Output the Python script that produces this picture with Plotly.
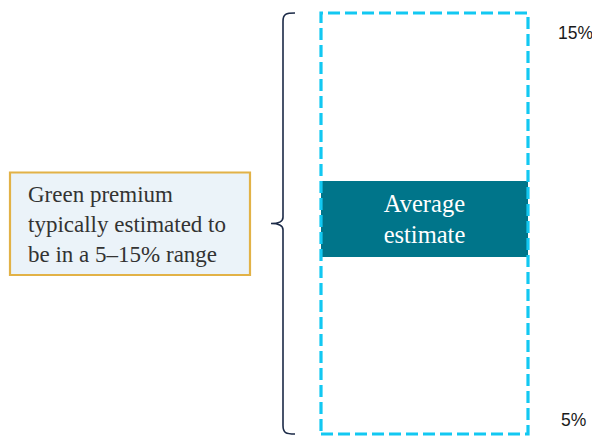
import plotly.graph_objects as go

# Data
range_low = 5.0       # lower bound of green premium estimate (%)
range_high = 15.0     # upper bound (%)
avg_low = 9.2         # average-estimate band lower edge (%)
avg_high = 11.0       # average-estimate band upper edge (%)
tick_labels = ["5%", "15%"]
band_label = "Average<br>estimate"
note_text = "Green premium<br>typically estimated to<br>be in a 5–15% range"

# Layout constants (x axis in page-pixel units)
W, H = 592, 437
box_x0, box_x1 = 321, 528
px_per_unit = 42.1
top_px = 13
y_top = range_high + top_px / px_per_unit
y_bot = y_top - H / px_per_unit
serif = "Liberation Serif"


def py(p):
    """page pixel row -> paper fraction"""
    return 1 - p / H


fig = go.Figure()

# Average estimate band
fig.add_trace(go.Bar(
    x=[(box_x0 + box_x1) / 2], y=[avg_high - avg_low], base=[avg_low],
    width=[box_x1 - box_x0],
    marker=dict(color="#00758A", line=dict(width=0)),
    text=[band_label], textposition="inside", insidetextanchor="middle",
    textfont=dict(family=serif, size=24.5, color="white"),
    hoverinfo="skip", showlegend=False,
))

# Dashed range box
fig.add_shape(type="rect", xref="x", yref="y",
              x0=box_x0, x1=box_x1, y0=range_low, y1=range_high,
              line=dict(color="#12C8F2", width=3.2, dash="12px,5px"),
              fillcolor="rgba(0,0,0,0)", layer="above")

# Curly brace
mid = (range_low + range_high) / 2
bx, tipx, endx = 283, 271, 295
path = (f"M {endx},{range_high} C {bx+3},{range_high} {bx},{range_high-0.02} {bx},{range_high-0.2} "
        f"L {bx},{mid+0.15} C {bx},{mid+0.05} {bx-3},{mid} {tipx},{mid} "
        f"C {bx-3},{mid} {bx},{mid-0.05} {bx},{mid-0.15} "
        f"L {bx},{range_low+0.2} C {bx},{range_low+0.02} {bx+3},{range_low} {endx},{range_low}")
fig.add_shape(type="path", path=path, xref="x", yref="y",
              line=dict(color="#1B2A47", width=1.6))

# Note box
fig.add_shape(type="rect", xref="x", yref="paper",
              x0=10, x1=250, y0=py(275), y1=py(172.5),
              line=dict(color="#E2B247", width=2.2), fillcolor="#EBF3F9", layer="below")
fig.add_annotation(x=26, y=py(224), xref="x", yref="paper",
                   text=note_text, showarrow=False, xanchor="left", yanchor="middle",
                   align="left", font=dict(family=serif, size=23, color="#333333"))

# Percentage labels
sans = "Liberation Sans"
fig.add_annotation(x=556, y=range_high, xref="x", yref="y", text=tick_labels[1],
                   showarrow=False, xanchor="left", yanchor="middle", yshift=-20,
                   font=dict(family=sans, size=17.5, color="#1a1a1a"))
fig.add_annotation(x=558.5, y=range_low, xref="x", yref="y", text=tick_labels[0],
                   showarrow=False, xanchor="left", yanchor="middle", yshift=14,
                   font=dict(family=sans, size=17.5, color="#1a1a1a"))

fig.update_layout(
    width=W, height=H, margin=dict(l=0, r=0, t=0, b=0),
    paper_bgcolor="white", plot_bgcolor="white",
    xaxis=dict(range=[0, W], visible=False, fixedrange=True),
    yaxis=dict(range=[y_bot, y_top], visible=False, fixedrange=True),
    showlegend=False, bargap=0,
)

fig.write_html("out.html", config={"displayModeBar": False},
               post_script="document.body.style.margin='0';document.body.style.overflow='hidden';")
